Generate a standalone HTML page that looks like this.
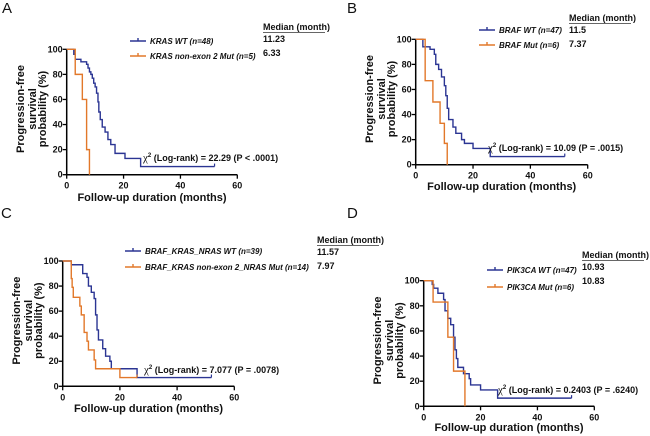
<!DOCTYPE html>
<html><head><meta charset="utf-8">
<style>
html,body{margin:0;padding:0;background:#fff;}
svg{display:block;font-family:"Liberation Sans",Arial,sans-serif;}
.t{font-weight:bold;font-size:9px;fill:#111;}
.ti{font-weight:bold;font-size:11px;fill:#111;}
.lg{font-weight:bold;font-style:italic;font-size:8px;fill:#111;}
.md{font-weight:bold;font-size:9px;fill:#111;}
.pl{font-size:15px;fill:#111;}
</style></head>
<body>
<svg id="chart" width="650" height="436" viewBox="0 0 650 436" xmlns="http://www.w3.org/2000/svg">
<text class="pl" x="2" y="13">A</text>
<text class="pl" x="347" y="13">B</text>
<text class="pl" x="1" y="218">C</text>
<text class="pl" x="347" y="218">D</text>
</svg>
<script>
// ---- data ----
const panelIds = ['a','b','c','d'];
const xTicks = [0,20,40,60];
const yTicks = [0,20,40,60,80,100];
// Panel A
const aWtTimes = [0,2.5,3,5,7,7.5,8,8.5,9,9.5,10,10.5,11,11.3,11.8,12.5,13.5,14.5,15.5,17,20.5,26];
const aWtSurv  = [100,96,92,90,88,85,82,80,77,73,70,65,58,50,44,38,34,28,24,17,13,6.5];
const aWtEnd = 52;
const aMutTimes = [0,3,5.5,7,8];
const aMutSurv  = [100,80,60,20,0];
const aMutEnd = 8;
// Panel B
const bWtTimes = [0,2.5,5,6.5,7,8,9,10,10.5,11,11.5,13,14,16,17,20,26];
const bWtSurv  = [100,94,92,88,80,76,70,63,55,45,36,30,25,20,17,13,6.5];
const bWtEnd = 52;
const bMutTimes = [0,3.3,6,8.5,10,11];
const bMutSurv  = [100,67,50,33,17,0];
const bMutEnd = 11;
// Panel C
const cWtTimes = [0,3,7,8.5,9,10,11,11.5,12,12.5,14,15,16.5,17,26];
const cWtSurv  = [100,97,90,87,80,75,70,57,45,37,30,24,20,14,7];
const cWtEnd = 52;
const cMutTimes = [0,3,3.3,3.7,6,6.5,7.5,8.5,9,11,11.5,20];
const cMutSurv  = [100,86,79,71,64,57,43,36,29,21,14,7];
const cMutEnd = 26;
// Panel D
const dWtTimes = [0,3,3.5,5,7,7.5,8.5,9.5,10.5,11,11.5,12,14,16,16.5,20,26];
const dWtSurv  = [100,97,94,90,85,76,70,65,55,45,38,31,26,22,17,13,6.5];
const dWtEnd = 52;
const dMutTimes = [0,3.3,8.5,10.5,14.5];
const dMutSurv  = [100,83,55,28,0];
const dMutEnd = 14.5;

const legendA = ['KRAS WT (n=48)','KRAS non-exon 2 Mut (n=5)'];
const legendB = ['BRAF WT (n=47)','BRAF Mut (n=6)'];
const legendC = ['BRAF_KRAS_NRAS WT (n=39)','BRAF_KRAS non-exon 2_NRAS Mut (n=14)'];
const legendD = ['PIK3CA WT (n=47)','PIK3CA Mut (n=6)'];
const mediansA = ['11.23','6.33'];
const mediansB = ['11.5','7.37'];
const mediansC = ['11.57','7.97'];
const mediansD = ['10.93','10.83'];
const chiA = '(Log-rank) = 22.29 (P < .0001)';
const chiB = '(Log-rank) = 10.09 (P = .0015)';
const chiC = '(Log-rank) = 7.077 (P = .0078)';
const chiD = '(Log-rank) = 0.2403 (P = .6240)';

// ---- layout ----
const L = {
 a:{x0:66.7,x1:237.3,y100:49.3,y0:174.7,lgx:130,lgy:[41,56],mx:263,my:30,chx:143,chy:161,xt:201,yl:[20,32,42],
    wt:[aWtTimes,aWtSurv,aWtEnd],mut:[aMutTimes,aMutSurv,aMutEnd],lg:legendA,md:mediansA,chi:chiA},
 b:{x0:415.7,x1:587.7,y100:39.3,y0:164.7,lgx:479,lgy:[30,45],mx:569,my:21,chx:488,chy:151,xt:190,yl:[369,381,391],
    wt:[bWtTimes,bWtSurv,bWtEnd],mut:[bMutTimes,bMutSurv,bMutEnd],lg:legendB,md:mediansB,chi:chiB},
 c:{x0:62.7,x1:234.3,y100:261,y0:386.3,lgx:125,lgy:[251,267],mx:317,my:243,chx:144,chy:373,xt:412,yl:[16,28,38],
    wt:[cWtTimes,cWtSurv,cWtEnd],mut:[cMutTimes,cMutSurv,cMutEnd],lg:legendC,md:mediansC,chi:chiC},
 d:{x0:423.7,x1:594.3,y100:280.7,y0:406.3,lgx:487,lgy:[270,287],mx:582,my:258,chx:498,chy:393,xt:431,yl:[377,389,399],
    wt:[dWtTimes,dWtSurv,dWtEnd],mut:[dMutTimes,dMutSurv,dMutEnd],lg:legendD,md:mediansD,chi:chiD}
};
const NS='http://www.w3.org/2000/svg';
const svg=document.getElementById('chart');
function mk(tag,attrs,parent){const e=document.createElementNS(NS,tag);for(const k in attrs)e.setAttribute(k,attrs[k]);(parent||svg).appendChild(e);return e;}
const BLUE='#2b3593', ORANGE='#e2782a';

panelIds.forEach(id=>{
 const p=L[id];
 const g=mk('g',{});
 
 
 const sx=v=>p.x0+(p.x1-p.x0)*v/60;
 const sy=v=>p.y0-(p.y0-p.y100)*v/100;
 const ya=mk('line',{x1:p.x0,y1:p.y100,x2:p.x0,y2:p.y0,stroke:'#000','stroke-width':1.5},g);
 
 
 const xa=mk('line',{x1:p.x0,y1:p.y0,x2:p.x1,y2:p.y0,stroke:'#000','stroke-width':1.5},g);
 
 
 yTicks.forEach(v=>{
  mk('line',{x1:p.x0-4,y1:sy(v),x2:p.x0,y2:sy(v),stroke:'#000','stroke-width':1.3},g);
  const t=mk('text',{x:p.x0-4,y:sy(v)+3,'text-anchor':'end',class:'t'},g);
  t.textContent=v;
  
  
 });
 xTicks.forEach(v=>{
  mk('line',{x1:sx(v),y1:p.y0,x2:sx(v),y2:p.y0+4,stroke:'#000','stroke-width':1.3},g);
  const t=mk('text',{x:sx(v),y:p.y0+14,'text-anchor':'middle',class:'t'},g);
  t.textContent=v;
  
  
 });
 const xt=mk('text',{x:(p.x0+p.x1)/2,y:p.xt,'text-anchor':'middle',class:'ti'},g);
 xt.textContent='Follow-up duration (months)';
 
 
 const cy=(p.y0+p.y100)/2-3;
 ['Progression-free','survival','probability (%)'].forEach((s,i)=>{
  const t=mk('text',{x:p.yl[i],y:cy,'text-anchor':'middle',class:'ti',transform:`rotate(-90 ${p.yl[i]} ${cy})`,dy:'4'},g);
  t.textContent=s;
  
  
 });
 [[p.wt,BLUE,'wt'],[p.mut,ORANGE,'mut']].forEach(([s,col,nm])=>{
  const [ts,ss,end]=s;
  let d=`M${sx(ts[0])},${sy(ss[0])}`;
  for(let i=1;i<ts.length;i++){d+=`H${sx(ts[i])}V${sy(ss[i])}`;}
  d+=`H${sx(end)}`;
  const path=mk('path',{d:d,fill:'none',stroke:col,'stroke-width':1.4},g);
  
  
  if(ss[ss.length-1]>0){
   const c=mk('line',{x1:sx(end),y1:sy(ss[ss.length-1])-3,x2:sx(end),y2:sy(ss[ss.length-1]),stroke:col,'stroke-width':1.2},g);
   
   
  }
 });
 [BLUE,ORANGE].forEach((col,i)=>{
  const y=p.lgy[i];
  const ln=mk('path',{d:`M${p.lgx},${y}H${p.lgx+16}M${p.lgx+8},${y}V${y-3}`,stroke:col,'stroke-width':1.4,fill:'none'},g);
  
  
  const t=mk('text',{x:p.lgx+20,y:y+3,class:'lg'},g);
  t.textContent=p.lg[i];
  
  
  const m=mk('text',{x:p.mx,y:p.my+12+i*14,class:'md'},g);
  m.textContent=p.md[i];
  
  
 });
 const mh=mk('text',{x:p.mx,y:p.my,class:'md'},g);
 mh.textContent='Median (month)';
 
 
 mk('line',{x1:p.mx,y1:p.my+2.5,x2:p.mx+62,y2:p.my+2.5,stroke:'#333','stroke-width':0.8},g);
 const ch=mk('text',{x:p.chx,y:p.chy,class:'t','font-size':'9'},g);
 
 
 const c1=mk('tspan',{'font-family':'Liberation Serif, serif','font-weight':'normal','font-size':'11'},ch); c1.textContent='χ';
 const c2=mk('tspan',{dy:'-4','font-size':'6'},ch); c2.textContent='2';
 const c3=mk('tspan',{dy:'4'},ch); c3.textContent=' '+p.chi;
});
</script>
</body></html>
